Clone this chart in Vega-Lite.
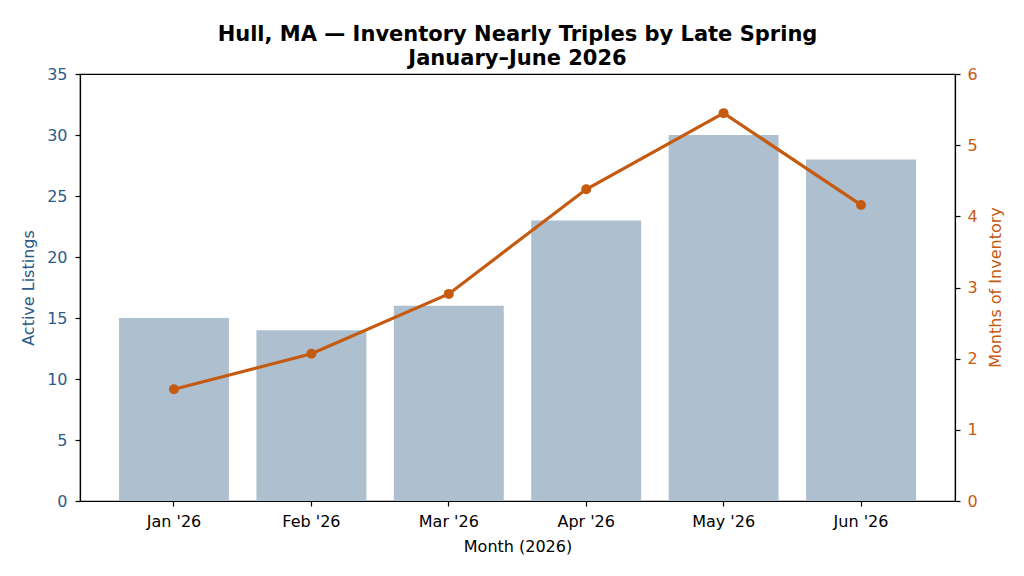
{
  "$schema": "https://vega.github.io/schema/vega-lite/v6.json",
  "autosize": "none",
  "width": 875,
  "height": 427,
  "padding": {"left": 80, "top": 74, "right": 69, "bottom": 75},
  "background": "white",
  "config": {
    "font": "DejaVu Sans",
    "view": {"stroke": "black", "strokeWidth": 1.2},
    "axis": {"labelFont": "DejaVu Sans", "titleFont": "DejaVu Sans", "labelFontSize": 16, "titleFontSize": 16, "titleFontWeight": "normal", "domainColor": "black", "tickColor": "black", "grid": false, "tickSize": 5, "domainWidth": 1.2, "tickWidth": 1.2}
  },
  "title": {
    "text": ["Hull, MA — Inventory Nearly Triples by Late Spring", "January–June 2026"],
    "font": "DejaVu Sans",
    "fontSize": 21,
    "fontWeight": "bold",
    "color": "black",
    "lineHeight": 24,
    "offset": -3,
    "anchor": "middle"
  },
  "data": {
    "values": [
      {"month": "Jan '26", "listings": 15, "moi": 1.57},
      {"month": "Feb '26", "listings": 14, "moi": 2.07},
      {"month": "Mar '26", "listings": 16, "moi": 2.91},
      {"month": "Apr '26", "listings": 23, "moi": 4.38},
      {"month": "May '26", "listings": 30, "moi": 5.45},
      {"month": "Jun '26", "listings": 28, "moi": 4.16}
    ]
  },
  "encoding": {
    "x": {
      "field": "month", "type": "ordinal", "sort": null,
      "scale": {"paddingInner": 0.2, "paddingOuter": 0.284},
      "axis": {"title": "Month (2026)", "labelAngle": 0, "labelPadding": 7, "titlePadding": 9, "labelColor": "black", "titleColor": "black"}
    }
  },
  "layer": [
    {
      "mark": {"type": "bar", "color": "#aebfcf"},
      "encoding": {
        "y": {
          "field": "listings", "type": "quantitative",
          "scale": {"domain": [0, 35], "nice": false},
          "axis": {"title": "Active Listings", "values": [0, 5, 10, 15, 20, 25, 30, 35], "labelColor": "#2b5c8a", "titleColor": "#2b5c8a", "titlePadding": 10, "labelPadding": 8}
        }
      }
    },
    {
      "mark": {"type": "line", "color": "#c55a11", "strokeWidth": 3.2, "point": {"filled": true, "size": 100, "color": "#c55a11", "opacity": 1}},
      "encoding": {
        "y": {
          "field": "moi", "type": "quantitative",
          "scale": {"domain": [0, 6], "nice": false},
          "axis": {"orient": "right", "title": "Months of Inventory", "titleAngle": 270, "titleX": 40, "titleY": 213, "titleAlign": "center", "titleBaseline": "middle", "values": [0, 1, 2, 3, 4, 5, 6], "labelColor": "#c55a11", "titleColor": "#c55a11", "labelPadding": 7}
        }
      }
    }
  ],
  "resolve": {"scale": {"y": "independent"}}
}
